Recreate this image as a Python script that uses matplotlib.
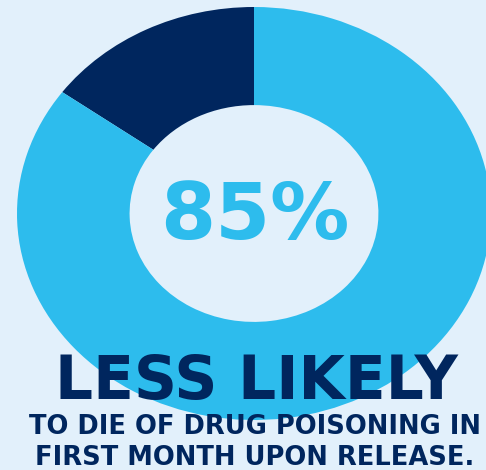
import matplotlib
matplotlib.use("Agg")
import matplotlib.pyplot as plt

# -----------------
# DATA
# -----------------
segments = ["Other", "Less likely"]
shares = [15, 85]
headline = "85%"
line_main = "LESS LIKELY"
line_sub1 = "TO DIE OF DRUG POISONING IN"
line_sub2 = "FIRST MONTH UPON RELEASE."

BG = "#e2f0fb"
LIGHT = "#2dbced"
NAVY = "#00265e"

W, H = 486, 470
fig = plt.figure(figsize=(W / 100, H / 100), dpi=100, facecolor=BG)

# donut axes (slightly stretched horizontally like the original)
ax = fig.add_axes([17 / W, 50 / H, 474 / W, 413 / H])
ax.set_facecolor(BG)
ax.pie(shares, colors=[NAVY, LIGHT], startangle=90, radius=1,
       wedgeprops=dict(width=0.475, linewidth=0))
ax.set_aspect("auto")
ax.set_xlim(-1, 1)
ax.set_ylim(-1, 1)
ax.axis("off")

font = "DejaVu Sans"
fig.text(255 / W, 231 / H, headline, ha="center", va="baseline",
         fontsize=57, fontweight="bold", color=LIGHT, family=font)
fig.text(256 / W, 71 / H, line_main, ha="center", va="baseline",
         fontsize=43, fontweight="bold", color=NAVY, family=font)
fig.text(255 / W, 36 / H, line_sub1, ha="center", va="baseline",
         fontsize=18.5, fontweight="bold", color=NAVY, family=font)
fig.text(255 / W, 5 / H, line_sub2, ha="center", va="baseline",
         fontsize=18.5, fontweight="bold", color=NAVY, family=font)

fig.savefig("out.png", dpi=100, facecolor=BG)
